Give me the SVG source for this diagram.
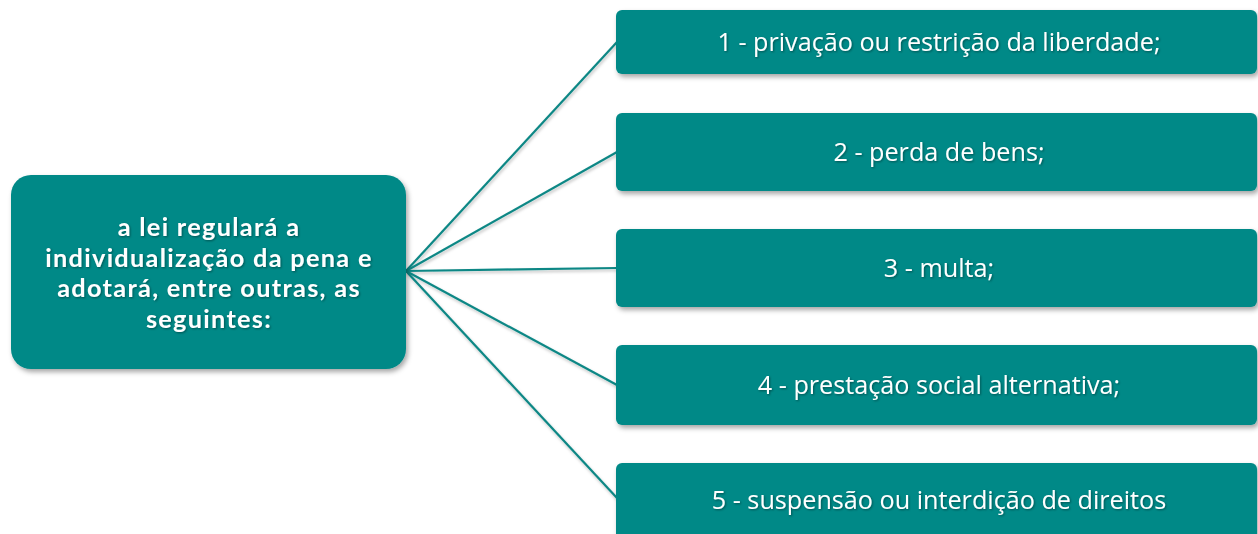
<svg xmlns="http://www.w3.org/2000/svg" width="1258" height="534" viewBox="0 0 1258 534">
<defs>
<filter id="sh" x="-10%" y="-20%" width="130%" height="150%">
<feDropShadow dx="2" dy="3" stdDeviation="2.5" flood-color="#000" flood-opacity="0.35"/>
</filter>
<filter id="tsh" x="-5%" y="-20%" width="110%" height="150%">
<feDropShadow dx="1" dy="1" stdDeviation="0.8" flood-color="#000" flood-opacity="0.4"/>
</filter>
<filter id="lsh" x="-10%" y="-10%" width="120%" height="120%">
<feDropShadow dx="1" dy="2" stdDeviation="1.5" flood-color="#000" flood-opacity="0.25"/>
</filter>
</defs>
<style>
.box{fill:#038987;}
.lbl{font-family:"Open Sans","Noto Sans",sans-serif;font-size:25.2px;fill:#fff;text-anchor:middle;}
.main{font-family:Lato,"Open Sans",sans-serif;font-size:25.3px;font-weight:bold;letter-spacing:1.3px;fill:#fff;text-anchor:middle;}
.con{stroke:#0b8785;stroke-width:2.2;fill:none;}
</style>
<rect width="1258" height="534" fill="#fff"/>
<g id="connectors" filter="url(#lsh)">
<line class="con" x1="406" y1="271" x2="617" y2="42"/>
<line class="con" x1="406" y1="271" x2="617" y2="152"/>
<line class="con" x1="406" y1="271" x2="617" y2="268"/>
<line class="con" x1="406" y1="271" x2="617" y2="385"/>
<line class="con" x1="406" y1="271" x2="617" y2="498"/>
</g>
<g id="main-node">
<rect class="box" x="11" y="175" width="395" height="194" rx="20" filter="url(#sh)"/>
<g filter="url(#tsh)">
<text class="main" x="209" y="236">a lei regulará a</text>
<text class="main" x="209" y="266.5">individualização da pena e</text>
<text class="main" x="209" y="297">adotará, entre outras, as</text>
<text class="main" x="209" y="327.5">seguintes:</text>
</g>
</g>
<g id="node1">
<rect class="box" x="616" y="10" width="641" height="64" rx="6" filter="url(#sh)"/>
<text class="lbl" x="939" y="51" filter="url(#tsh)">1 - privação ou restrição da liberdade;</text>
</g>
<g id="node2">
<rect class="box" x="616" y="113" width="641" height="78" rx="6" filter="url(#sh)"/>
<text class="lbl" x="939" y="161" filter="url(#tsh)">2 - perda de bens;</text>
</g>
<g id="node3">
<rect class="box" x="616" y="229" width="641" height="78" rx="6" filter="url(#sh)"/>
<text class="lbl" x="939" y="277" filter="url(#tsh)">3 - multa;</text>
</g>
<g id="node4">
<rect class="box" x="616" y="345" width="641" height="80" rx="6" filter="url(#sh)"/>
<text class="lbl" x="939" y="394" filter="url(#tsh)">4 - prestação social alternativa;</text>
</g>
<g id="node5">
<rect class="box" x="616" y="463" width="641" height="80" rx="6" filter="url(#sh)"/>
<text class="lbl" x="939" y="509" filter="url(#tsh)">5 - suspensão ou interdição de direitos</text>
</g>
</svg>
